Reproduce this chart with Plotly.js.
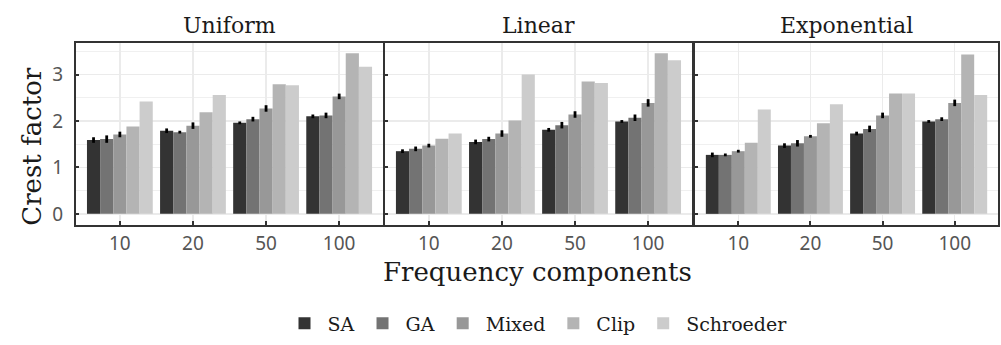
<!DOCTYPE html>
<html>
<head>
<meta charset="utf-8">
<script src="https://cdn.plot.ly/plotly-3.0.1.min.js"></script>
<style>html,body{margin:0;padding:0;background:#fff;}</style>
</head>
<body>
<div id="chart" style="width:1001px;height:345px;"></div>
<script>
// ---- data ----
const categories = ["10", "20", "50", "100"];
const panels = ["Uniform", "Linear", "Exponential"];
const methods = ["SA", "GA", "Mixed", "Clip", "Schroeder"];
const colors = ["#333333", "#737373", "#989898", "#b4b4b4", "#cccccc"];

// values per panel, per method (order of categories)
const uniformSA = [1.59, 1.79, 1.96, 2.10];
const uniformGA = [1.61, 1.76, 2.04, 2.12];
const uniformMixed = [1.71, 1.90, 2.27, 2.53];
const uniformClip = [1.88, 2.19, 2.79, 3.46];
const uniformSchroeder = [2.42, 2.56, 2.77, 3.17];

const linearSA = [1.35, 1.55, 1.81, 1.99];
const linearGA = [1.40, 1.61, 1.91, 2.07];
const linearMixed = [1.47, 1.73, 2.14, 2.39];
const linearClip = [1.62, 2.01, 2.85, 3.46];
const linearSchroeder = [1.73, 3.00, 2.82, 3.31];

const expSA = [1.27, 1.47, 1.73, 1.99];
const expGA = [1.27, 1.52, 1.83, 2.04];
const expMixed = [1.35, 1.67, 2.12, 2.39];
const expClip = [1.53, 1.95, 2.59, 3.43];
const expSchroeder = [2.25, 2.36, 2.59, 2.56];

// error bar half-widths (SA, GA, Mixed only)
const uniformSAerr = [0.06, 0.05, 0.03, 0.04];
const uniformGAerr = [0.08, 0.03, 0.05, 0.06];
const uniformMixedErr = [0.06, 0.07, 0.07, 0.06];
const linearSAerr = [0.04, 0.05, 0.04, 0.03];
const linearGAerr = [0.05, 0.05, 0.07, 0.07];
const linearMixedErr = [0.04, 0.07, 0.07, 0.08];
const expSAerr = [0.05, 0.05, 0.04, 0.03];
const expGAerr = [0.03, 0.07, 0.07, 0.04];
const expMixedErr = [0.03, 0.03, 0.06, 0.07];

const panelValues = [
  [uniformSA, uniformGA, uniformMixed, uniformClip, uniformSchroeder],
  [linearSA, linearGA, linearMixed, linearClip, linearSchroeder],
  [expSA, expGA, expMixed, expClip, expSchroeder]
];
const panelErrors = [
  [uniformSAerr, uniformGAerr, uniformMixedErr, null, null],
  [linearSAerr, linearGAerr, linearMixedErr, null, null],
  [expSAerr, expGAerr, expMixedErr, null, null]
];

// ---- traces ----
const traces = [];
panels.forEach((p, pi) => {
  methods.forEach((m, mi) => {
    const t = {
      type: "bar",
      name: m,
      x: categories,
      y: panelValues[pi][mi],
      marker: {color: colors[mi], line: {width: 0}},
      xaxis: "x" + (pi === 0 ? "" : pi + 1),
      yaxis: "y" + (pi === 0 ? "" : pi + 1),
      legendgroup: m,
      showlegend: pi === 0,
      hoverinfo: "skip"
    };
    if (panelErrors[pi][mi]) {
      t.error_y = {type: "data", array: panelErrors[pi][mi], visible: true,
                   color: "#000000", thickness: 2.8, width: 0};
    }
    traces.push(t);
  });
});

const serif = "DejaVu Serif";
const sans = "Noto Sans";
const yRange = [-0.24, 3.68];
const domains = [[0, 0.333], [0.3351, 0.6681], [0.6714, 1]];

function xAxis(i) {
  return {
    domain: domains[i], type: "category", range: [-0.6, 3.6],
    anchor: i === 0 ? "y" : "y" + (i + 1),
    showline: true, mirror: true, linecolor: "#333333", linewidth: 2,
    showgrid: true, gridcolor: "#ebebeb", gridwidth: 1.5,
    ticks: "inside", ticklen: 4, tickwidth: 2, tickcolor: "#333333",
    tickfont: {family: sans, size: 19, color: "#555555"},
    zeroline: false, fixedrange: true
  };
}
function yAxis(i) {
  return {
    range: yRange, anchor: i === 0 ? "x" : "x" + (i + 1),
    showline: true, mirror: true, linecolor: "#333333", linewidth: 2,
    showgrid: true, gridcolor: "#ebebeb", gridwidth: 1.5,
    tickvals: [0, 1, 2, 3], ticktext: ["0", "1", "2", "3"],
    minor: {tickvals: [0.5, 1.5, 2.5, 3.5], showgrid: true, gridcolor: "#f0f0f0", gridwidth: 1.3, ticks: ""},
    ticks: "inside", ticklen: 3, tickwidth: 2, tickcolor: "#333333",
    showticklabels: i === 0,
    tickfont: {family: sans, size: 19, color: "#555555"},
    ticklabelstandoff: 7,
    zeroline: false, fixedrange: true
  };
}

const annotations = panels.map((p, i) => ({
  text: p, xref: "paper", yref: "paper",
  x: (domains[i][0] + domains[i][1]) / 2, y: 1.095, xanchor: "center", yanchor: "middle",
  showarrow: false, font: {family: serif, size: 22, color: "#1a1a1a"}
}));
annotations.push({
  text: "Frequency components", xref: "paper", yref: "paper", x: 0.5, y: -0.26,
  xanchor: "center", yanchor: "middle", showarrow: false,
  font: {family: serif, size: 26, color: "#1a1a1a"}
});
annotations.push({
  text: "Crest factor", xref: "paper", yref: "paper", x: -0.0477, y: 0.43,
  xanchor: "center", yanchor: "middle", textangle: -90, showarrow: false,
  font: {family: serif, size: 26, color: "#1a1a1a"}
});

const layout = {
  width: 1001, height: 345,
  margin: {l: 76, r: 3, t: 43, b: 117},
  paper_bgcolor: "#ffffff", plot_bgcolor: "#ffffff",
  barmode: "group", bargap: 0.1, bargroupgap: 0,
  showlegend: true,
  legend: {orientation: "h", x: 0.5, xanchor: "center", y: -0.54, yanchor: "middle",
           itemwidth: 36,
           font: {family: serif, size: 19, color: "#1a1a1a"}, traceorder: "normal"},
  annotations: annotations,
  xaxis: xAxis(0), xaxis2: xAxis(1), xaxis3: xAxis(2),
  yaxis: yAxis(0), yaxis2: yAxis(1), yaxis3: yAxis(2)
};

Plotly.newPlot("chart", traces, layout, {displayModeBar: false, staticPlot: true});
</script>
</body>
</html>
